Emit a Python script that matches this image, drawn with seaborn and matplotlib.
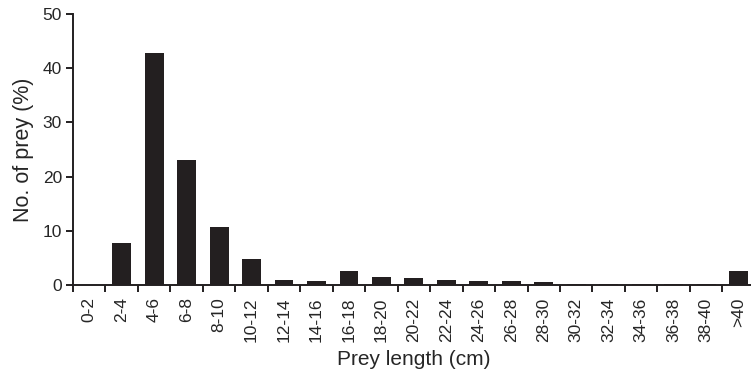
"""Prey length distribution bar chart."""

import matplotlib

matplotlib.use("Agg")
import matplotlib.pyplot as plt
import numpy as np
import pandas as pd
import seaborn as sns

LENGTH_CLASSES = [
    "0-2", "2-4", "4-6", "6-8", "8-10", "10-12", "12-14", "14-16", "16-18",
    "18-20", "20-22", "22-24", "24-26", "26-28", "28-30", "30-32", "32-34",
    "34-36", "36-38", "38-40", ">40",
]
PREY_PERCENT = [
    0.0, 7.7, 42.8, 23.1, 10.7, 4.8, 1.0, 0.8, 2.6,
    1.5, 1.3, 0.9, 0.7, 0.7, 0.5, 0.2, 0.2,
    0.2, 0.2, 0.2, 2.6,
]
Y_TICKS = [0, 10, 20, 30, 40, 50]


def main() -> None:
    sns.set_style("ticks")
    plt.rcParams["font.family"] = ["Liberation Sans", "DejaVu Sans"]

    frame = pd.DataFrame({"length": LENGTH_CLASSES, "percent": PREY_PERCENT})

    fig = plt.figure(figsize=(7.51, 3.71), dpi=100)
    ax = fig.add_axes([73 / 751, 1 - 285 / 371, (754.8 - 73) / 751, (285 - 14) / 371])

    sns.barplot(
        data=frame,
        x="length",
        y="percent",
        order=LENGTH_CLASSES,
        color="#231f20",
        saturation=1,
        width=0.58,
        ax=ax,
    )
    for patch in ax.patches:
        patch.set_edgecolor("none")

    n = len(LENGTH_CLASSES)
    ax.set_xlim(-0.5, n - 0.5)
    ax.set_ylim(0, 50)
    ax.set_yticks(Y_TICKS)

    # labels at bar centres, tick marks on class boundaries
    ax.set_xticks(np.arange(n))
    ax.set_xticklabels(LENGTH_CLASSES, rotation=90, fontsize=12.5)
    ax.tick_params(axis="x", which="major", length=0, pad=9)
    ax.set_xticks(np.arange(n) - 0.5, minor=True)
    ax.tick_params(axis="x", which="minor", length=5, width=1.4, color="#231f20")
    ax.tick_params(axis="y", length=5, width=1.4, labelsize=12.5, color="#231f20", pad=3)

    for side in ("left", "bottom"):
        ax.spines[side].set_linewidth(1.4)
        ax.spines[side].set_color("#231f20")
    sns.despine(ax=ax)

    ax.set_xlabel("Prey length (cm)", fontsize=15, labelpad=6)
    ax.set_ylabel("No. of prey (%)", fontsize=15.5, labelpad=6)

    fig.savefig("out.png", dpi=100)
    plt.close(fig)


if __name__ == "__main__":
    main()
